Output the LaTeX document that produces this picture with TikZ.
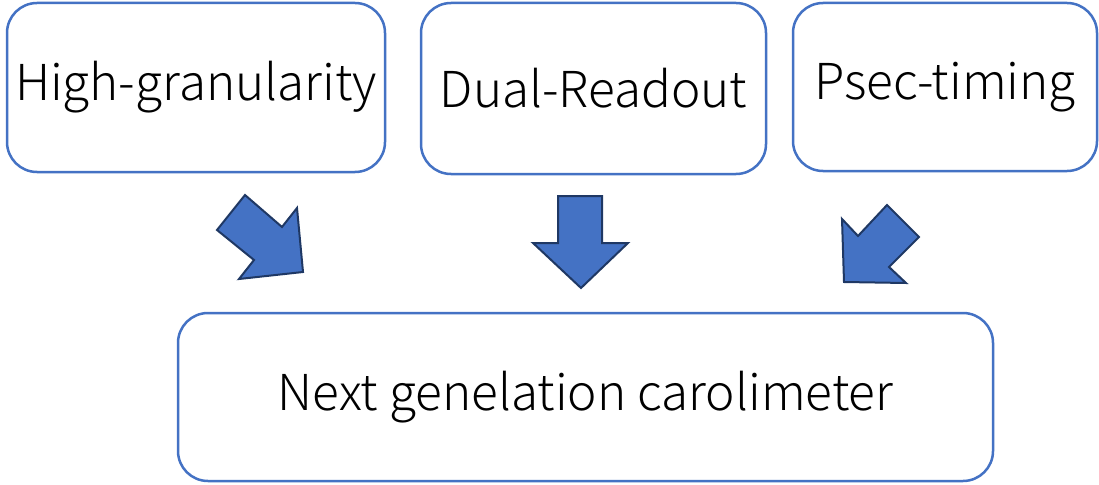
\documentclass[tikz,border=0pt]{standalone}
\usepackage{fontspec}
\setmainfont{Noto Sans CJK JP}[UprightFont={* Light}]
\definecolor{BoxBlau}{HTML}{4472C4}
\definecolor{PfeilRand}{HTML}{1F3864}
\newcommand{\boxrund}{30}
\newcommand{\textgross}{\fontsize{49.5}{53}\selectfont}
\tikzset{
  kasten/.style={draw=BoxBlau, line width=2.5pt, rounded corners=\boxrund pt,
    fill=white, align=center, font=\textgross, inner sep=0pt},
  pfeil/.style={fill=BoxBlau, draw=PfeilRand, line width=2pt, line join=miter}
}

\begin{document}
\begin{tikzpicture}[x=1pt, y=-1pt]

\useasboundingbox (0,0) rectangle (1099,484);

% ====================================================================
%
%         Kaesten
%
% ====================================================================

  % Kasten links
  \node[kasten, minimum width=378pt, minimum height=169pt] (granular) at (196,87.5) {High-granularity};

  % Kasten mitte
  \node[kasten, minimum width=345pt, minimum height=171pt] (dual) at (593.5,88.5) {Dual-Readout};

  % Kasten rechts
  \node[kasten, minimum width=304pt, minimum height=168pt] (psec) at (945,87) {Psec-timing};

  % Kasten unten
  \node[kasten, minimum width=815pt, minimum height=168pt] (kalo) at (585.5,397) {Next genelation carolimeter};

% ====================================================================
%
%         Pfeile
%
% ====================================================================

  % Pfeil links
  \filldraw[pfeil]
(217,230) -- (245,195) -- (282,227) -- (297,208) -- (303,272) % Spitze
-- (239,279) -- (254,260) -- cycle;

  % Pfeil mitte
  \filldraw[pfeil]
(558,196) -- (602,196) -- (602,243) -- (628,243) -- (581,288) % Spitze
-- (533,243) -- (558,243) -- cycle;

  % Pfeil rechts
  \filldraw[pfeil]
(887,205) -- (919,237) -- (889,267) -- (906,283) -- (844,282) % Spitze
-- (842,219) -- (858,236) -- cycle;

\end{tikzpicture}
\end{document}
